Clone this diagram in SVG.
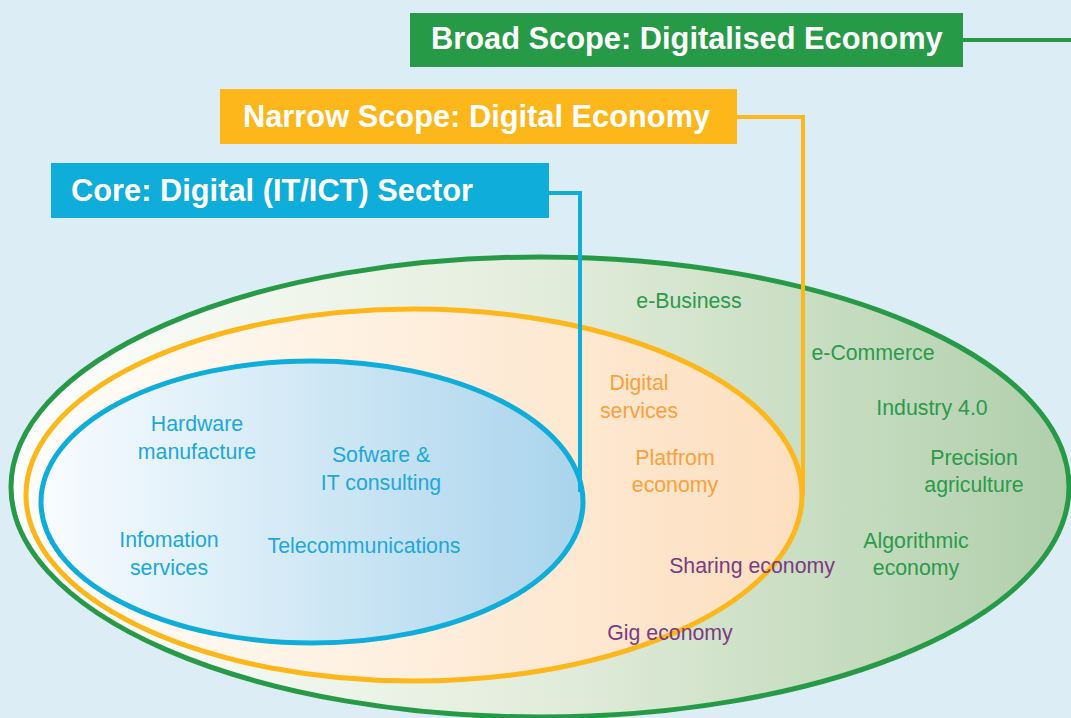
<svg xmlns="http://www.w3.org/2000/svg" width="1071" height="718" viewBox="0 0 1071 718">
<defs>
<linearGradient id="gGreen" x1="10" y1="0" x2="1070" y2="0" gradientUnits="userSpaceOnUse">
<stop offset="0" stop-color="#ffffff"/>
<stop offset="0.5" stop-color="#e3eddc"/>
<stop offset="1" stop-color="#b0cfab"/>
</linearGradient>
<linearGradient id="gOrange" x1="26" y1="0" x2="802" y2="0" gradientUnits="userSpaceOnUse">
<stop offset="0" stop-color="#fffefb"/>
<stop offset="1" stop-color="#fddfbf"/>
</linearGradient>
<linearGradient id="gBlue" x1="42" y1="0" x2="583" y2="0" gradientUnits="userSpaceOnUse">
<stop offset="0" stop-color="#f8fcff"/>
<stop offset="1" stop-color="#a9d4ec"/>
</linearGradient>
</defs>
<style>
.title{font-family:"Liberation Sans",Arial,sans-serif;font-weight:bold;font-size:30.8px;fill:#ffffff}
.t{font-family:"Liberation Sans",Arial,sans-serif;font-size:21.3px;text-anchor:middle}
.blue{fill:#1ba8dc}
.orange{fill:#f7a23c}
.purple{fill:#7b3b7e}
.green{fill:#2b9a4b}
.conn{fill:none;stroke-width:4}
</style>
<rect x="0" y="0" width="1071" height="718" fill="#dcedf5"/>
<g id="broad-scope">
<ellipse cx="540" cy="487" rx="529" ry="230" fill="url(#gGreen)" stroke="#279a47" stroke-width="5"/>
</g>
<g id="narrow-scope">
<ellipse cx="414" cy="495" rx="388" ry="186" fill="url(#gOrange)" stroke="#fdb71a" stroke-width="5"/>
</g>
<g id="core">
<ellipse cx="312" cy="502" rx="271" ry="141" fill="url(#gBlue)" stroke="#0fadd9" stroke-width="5"/>
</g>
<g id="connectors">
<polyline class="conn" stroke="#0fadd9" points="549,193 580,193 580,492"/>
<polyline class="conn" stroke="#fdb71a" points="737,117 803,117 803,495"/>
<polyline class="conn" stroke="#279a47" points="963,40 1071,40"/>
</g>
<g id="label-broad">
<rect x="410" y="13" width="553" height="54" fill="#279a47"/>
<text class="title" x="431" y="49">Broad Scope: Digitalised Economy</text>
</g>
<g id="label-narrow">
<rect x="220" y="89" width="517" height="55" fill="#fdb71a"/>
<text class="title" x="243" y="127">Narrow Scope: Digital Economy</text>
</g>
<g id="label-core">
<rect x="51" y="163" width="498" height="55" fill="#0fadd9"/>
<text class="title" x="71" y="201">Core: Digital (IT/ICT) Sector</text>
</g>
<g id="core-items">
<text class="t blue" x="197" y="431">Hardware</text>
<text class="t blue" x="197" y="459">manufacture</text>
<text class="t blue" x="381" y="462">Sofware &amp;</text>
<text class="t blue" x="381" y="490">IT consulting</text>
<text class="t blue" x="169" y="547">Infomation</text>
<text class="t blue" x="169" y="575">services</text>
<text class="t blue" x="364" y="553">Telecommunications</text>
</g>
<g id="narrow-items">
<text class="t orange" x="639" y="390">Digital</text>
<text class="t orange" x="639" y="418">services</text>
<text class="t orange" x="675" y="465">Platfrom</text>
<text class="t orange" x="675" y="492">economy</text>
<text class="t purple" x="752" y="573">Sharing economy</text>
<text class="t purple" x="670" y="640">Gig economy</text>
</g>
<g id="broad-items">
<text class="t green" x="689" y="308">e-Business</text>
<text class="t green" x="873" y="360">e-Commerce</text>
<text class="t green" x="932" y="415">Industry 4.0</text>
<text class="t green" x="974" y="465">Precision</text>
<text class="t green" x="974" y="492">agriculture</text>
<text class="t green" x="916" y="548">Algorithmic</text>
<text class="t green" x="916" y="575">economy</text>
</g>
</svg>
